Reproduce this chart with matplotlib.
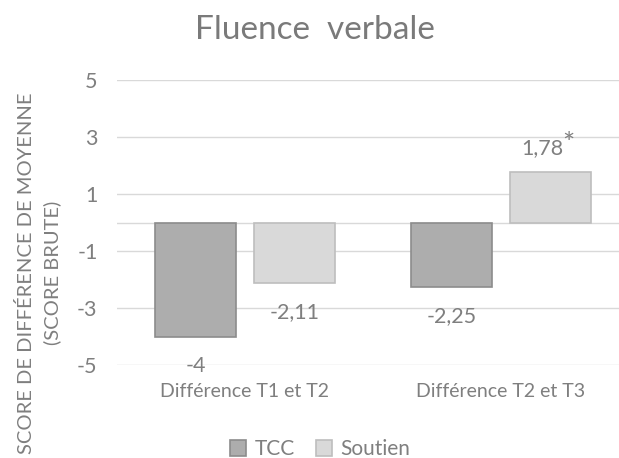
import matplotlib.pyplot as plt
import numpy as np

# data
categories = ['Différence T1 et T2', 'Différence T2 et T3']
tcc = [-4, -2.25]
soutien = [-2.11, 1.78]
tcc_marks = ['', '']
soutien_marks = ['', '*']
yticks = [-5, -3, -1, 1, 3, 5]

plt.rcParams['font.family'] = ['Lato', 'DejaVu Sans']
txt = '#7f7f7f'

fig = plt.figure(figsize=(6.19, 4.58), dpi=100)
ax = fig.add_axes([117/619, 1-365/458, 512/619, 285/458])

x = np.arange(len(categories))
w = 0.316
off = 0.193
b1 = ax.bar(x - off, tcc, w, color='#adadad', edgecolor='#8c8c8c', linewidth=1.2, label='TCC', zorder=3)
b2 = ax.bar(x + off, soutien, w, color='#d9d9d9', edgecolor='#bebebe', linewidth=1.2, label='Soutien', zorder=3)


def fmt(v):
    s = ('%g' % v).replace('.', ',')
    return s


for bars, vals, marks in [(b1, tcc, tcc_marks), (b2, soutien, soutien_marks)]:
    for b, v, m in zip(bars, vals, marks):
        cx = b.get_x() + b.get_width()/2
        dy = 17 if v > 0 else -21
        ax.annotate(fmt(v), (cx, v), xytext=(-6 if m else 0, dy), textcoords='offset points',
                    ha='center', va='center', fontsize=15.5, color=txt)
        if m:
            ax.annotate(m, (cx, v), xytext=(8.5, dy + 2), textcoords='offset points',
                        ha='left', va='center', fontsize=21, color=txt)

ax.set_ylim(-5, 5)
ax.set_xlim(-0.5, 1.5)
ax.set_yticks(yticks)
ax.set_yticklabels([str(t) for t in yticks], fontsize=15.5, color=txt)
ax.set_xticks(x)
ax.set_xticklabels(categories, fontsize=14, color=txt)
ax.tick_params(axis='y', length=0, pad=14)
ax.tick_params(axis='x', length=0, pad=13)
ax.grid(axis='y', color='#d9d9d9', linewidth=1, zorder=0)
ax.axhline(0, color='#d9d9d9', linewidth=1, zorder=1)
for s in ax.spines.values():
    s.set_visible(False)

fig.text(39/619, 1-273/458, 'SCORE DE DIFFÉRENCE DE MOYENNE\n(SCORE BRUTE)', rotation=90,
         ha='center', va='center', fontsize=14.5, color=txt, linespacing=1.5, multialignment='center')
fig.text(315/619, 1-30/458, 'Fluence  verbale', ha='center', va='center', fontsize=24, color='#7a7a7a')

fig.legend(handles=[b1, b2], loc='center', bbox_to_anchor=(320/619, 1-449/458), ncol=2, frameon=False,
           fontsize=15, labelcolor=txt, handlelength=0.8, handleheight=0.8, handletextpad=0.4,
           columnspacing=1.0)

fig.savefig('out.png', dpi=100)
